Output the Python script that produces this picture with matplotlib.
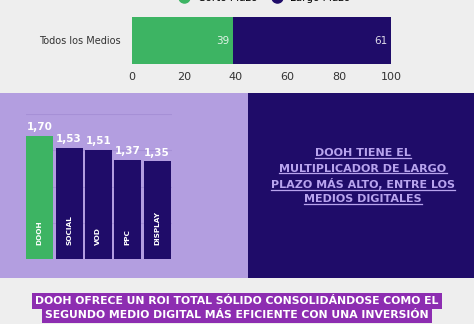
# Infografía: ROI corto/largo plazo y multiplicador por medio
import matplotlib.pyplot as plt
from matplotlib.patches import Rectangle
from matplotlib.lines import Line2D

# Datos
grupo = ["Todos los Medios"]
corto_plazo = [39]
largo_plazo = [61]
ticks_x = [0, 20, 40, 60, 80, 100]

medios = ["DOOH", "SOCIAL", "VOD", "PPC", "DISPLAY"]
multiplicador = [1.70, 1.53, 1.51, 1.37, 1.35]

titulo_panel = ["DOOH TIENE EL", "MULTIPLICADOR DE LARGO",
                "PLAZO MÁS ALTO, ENTRE LOS", "MEDIOS DIGITALES"]
banner = ["DOOH OFRECE UN ROI TOTAL SÓLIDO CONSOLIDÁNDOSE COMO EL",
          "SEGUNDO MEDIO DIGITAL MÁS EFICIENTE CON UNA INVERSIÓN"]

# Colores
verde = "#3db463"
azul = "#1f0c69"
lila = "#b39ee0"
lila_txt = "#b8a4ee"
morado = "#8d2db1"
fondo = "#eeeeee"

W, H = 474, 324
fig = plt.figure(figsize=(W / 100, H / 100), dpi=100, facecolor=fondo)


def caja(x0, y0, x1, y1):
    # pixeles (origen arriba-izquierda) -> fracción de figura
    return [x0 / W, 1 - y1 / H, (x1 - x0) / W, (y1 - y0) / H]


# Paneles de fondo
fig.patches.append(Rectangle((0, 1 - 278 / H), 248 / W, 185 / H,
                             transform=fig.transFigure, facecolor=lila, zorder=-10))
fig.patches.append(Rectangle((248 / W, 1 - 278 / H), 226 / W, 185 / H,
                             transform=fig.transFigure, facecolor=azul, zorder=-10))

# Barra apilada superior
ax1 = fig.add_axes(caja(132, 17, 391, 64))
ax1.set_facecolor("none")
ax1.barh(grupo, corto_plazo, height=1.0, color=verde)
ax1.barh(grupo, largo_plazo, left=corto_plazo, height=1.0, color=azul)
ax1.set_ylim(-0.5, 0.5)
ax1.set_xlim(0, 100)
ax1.set_xticks(ticks_x)
ax1.tick_params(length=0, labelsize=8, colors="#333333", pad=6)
ax1.tick_params(axis="y", pad=8, labelsize=7)
for s in ax1.spines.values():
    s.set_visible(False)
for i, (c, l) in enumerate(zip(corto_plazo, largo_plazo)):
    ax1.text(c - 1.5, i, str(c), ha="right", va="center", color="white",
             alpha=0.85, fontsize=7.5)
    ax1.text(c + l - 1.5, i, str(l), ha="right", va="center", color="white",
             alpha=0.85, fontsize=7.5)

# Leyenda (cortada en el borde superior, como en el original)
fig.legend(handles=[Line2D([], [], marker="o", ls="", color=verde, markersize=8),
                    Line2D([], [], marker="o", ls="", color=azul, markersize=8)],
           labels=["Corto Plazo", "Largo Plazo"], loc="center",
           bbox_to_anchor=(0.553, 1.007), ncol=2, frameon=False, fontsize=7.5,
           handletextpad=0.3, columnspacing=0.9)

# Barras del multiplicador
ax2 = fig.add_axes(caja(26, 114, 172, 259))
ax2.set_facecolor("none")
colores = [verde] + [azul] * (len(medios) - 1)
ax2.bar(range(len(medios)), multiplicador, width=0.92, color=colores, zorder=2)
ax2.set_ylim(0, 2)
ax2.set_xlim(-0.47, 4.51)
ax2.set_yticks([0.5, 1.0, 1.5, 2.0])
ax2.grid(axis="y", color="#a690d6", linewidth=0.8, zorder=1)
ax2.set_xticks([])
ax2.tick_params(left=False, labelleft=False)
for s in ax2.spines.values():
    s.set_visible(False)
for i, (m, v) in enumerate(zip(medios, multiplicador)):
    ax2.text(i, v + 0.05, f"{v:.2f}".replace(".", ","), ha="center", va="bottom",
             color="white", fontweight="bold", fontsize=7.5)
    ax2.text(i, 0.19, m, rotation=90, ha="center", va="bottom",
             color="white", fontweight="bold", fontsize=5.3)

# Texto del panel azul, subrayado
fig.canvas.draw()
rend = fig.canvas.get_renderer()
for k, linea in enumerate(titulo_panel):
    y = 1 - (153 + 15.5 * k) / H
    t = fig.text(363 / W, y, linea, ha="center", va="center", color=lila_txt,
                 fontweight="bold", fontsize=8)
    bb = t.get_window_extent(rend).transformed(fig.transFigure.inverted())
    fig.add_artist(Line2D([bb.x0, bb.x1], [bb.y0 + 0.001, bb.y0 + 0.001],
                          color=lila_txt, linewidth=0.9, transform=fig.transFigure))

# Banner inferior
for k, linea in enumerate(banner):
    fig.text(0.5, 1 - (301 + 13.5 * k) / H, linea, ha="center", va="center",
             color="white", fontweight="bold", fontsize=7.8,
             bbox=dict(facecolor=morado, edgecolor="none", pad=2.4))

fig.savefig("out.png", dpi=100, facecolor=fondo)
